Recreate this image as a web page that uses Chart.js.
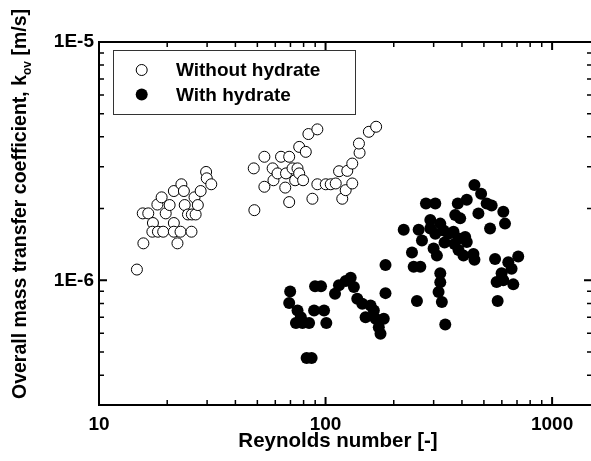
<!DOCTYPE html>
<html>
<head>
<meta charset="utf-8">
<script src="https://cdn.jsdelivr.net/npm/chart.js@4"></script>
<style>
html, body { margin: 0; padding: 0; background: #fff; overflow: hidden; }
#wrap { width: 600px; height: 461px; }
</style>
</head>
<body>
<div id="wrap"><canvas id="chart" width="600" height="461"></canvas></div>
<script>
// Reynolds number / overall mass transfer coefficient k_ov [m/s]
const reWithout = [14.7, 15.7, 15.6, 16.5, 17.3, 17.2, 18.2, 19.2, 18.1, 18.9,
  19.7, 20.5, 21.4, 21.4, 22.2, 22.9, 25.6, 21.4, 23.1, 23.7,
  23.9, 24.7, 25.7, 26.7, 26.4, 27.3, 28.1, 29.7, 29.9, 31.3,
  48.5, 48.2, 53.7, 53.7, 58.4, 58.9, 61.4, 63.6, 69.1, 66.9,
  66.4, 69.1, 71.5, 73.4, 75.2, 76.5, 79.6, 76.5, 81.8, 84.0,
  92.0, 87.5, 92.0, 100.2, 105.4, 110.9, 114.7, 118.5, 122.7, 124.7,
  131.2, 131.2, 141.3, 140.4, 155.3, 167.2];
const kWithout = [1.11e-6, 1.43e-6, 1.91e-6, 1.91e-6, 1.74e-6, 1.60e-6, 1.60e-6, 1.60e-6, 2.08e-6, 2.23e-6,
  1.91e-6, 2.07e-6, 1.74e-6, 1.60e-6, 1.43e-6, 1.60e-6, 1.60e-6, 2.37e-6, 2.53e-6, 2.37e-6,
  2.07e-6, 1.89e-6, 1.89e-6, 1.89e-6, 2.23e-6, 2.07e-6, 2.37e-6, 2.85e-6, 2.68e-6, 2.53e-6,
  1.97e-6, 2.95e-6, 3.30e-6, 2.47e-6, 2.95e-6, 2.63e-6, 2.81e-6, 3.30e-6, 3.30e-6, 2.81e-6,
  2.45e-6, 2.13e-6, 2.95e-6, 2.63e-6, 2.95e-6, 2.81e-6, 2.63e-6, 3.63e-6, 3.46e-6, 4.11e-6,
  4.30e-6, 2.20e-6, 2.53e-6, 2.53e-6, 2.53e-6, 2.55e-6, 2.87e-6, 2.20e-6, 2.39e-6, 2.88e-6,
  2.55e-6, 3.09e-6, 3.43e-6, 3.75e-6, 4.20e-6, 4.41e-6];

const reWith = [69.8, 69.1, 75.2, 74.0, 79.1, 84.6, 89.0, 98.5, 100.8, 89.9,
  95.5, 82.5, 86.8, 110.1, 114.6, 122.7, 129.1, 133.4, 138.0, 145.2,
  158.0, 150.2, 163.4, 166.3, 180.7, 171.8, 174.8, 183.9, 183.9, 221.3,
  257.6, 240.7, 244.9, 262.0, 253.2, 266.4, 277.4, 305.1, 290.0, 290.0,
  305.1, 320.9, 331.8, 349.1, 367.2, 299.9, 310.1, 386.2, 413.3, 420.1,
  386.2, 406.3, 449.6, 454.2, 320.9, 320.9, 315.4, 326.1, 337.6, 383.5,
  420.1, 373.6, 392.9, 454.2, 486.0, 472.9, 514.3, 541.0, 609.0, 532.3,
  619.6, 560.0, 640.7, 708.8, 662.4, 598.5, 569.1, 609.0, 674.0, 575.0,
  77.8, 335.2, 370.9];
const kWith = [8.99e-7, 8.04e-7, 7.48e-7, 6.62e-7, 6.62e-7, 6.62e-7, 7.48e-7, 7.48e-7, 6.62e-7, 9.44e-7,
  9.44e-7, 4.72e-7, 4.72e-7, 8.79e-7, 9.53e-7, 9.93e-7, 1.026e-6, 9.37e-7, 8.38e-7, 7.98e-7,
  7.85e-7, 7.01e-7, 7.48e-7, 6.90e-7, 6.90e-7, 6.36e-7, 5.97e-7, 1.16e-6, 8.84e-7, 1.63e-6,
  1.63e-6, 1.31e-6, 1.14e-6, 1.14e-6, 8.20e-7, 1.47e-6, 2.10e-6, 2.10e-6, 1.79e-6, 1.65e-6,
  1.57e-6, 1.73e-6, 1.62e-6, 1.57e-6, 1.60e-6, 1.36e-6, 1.27e-6, 1.50e-6, 1.52e-6, 1.45e-6,
  1.34e-6, 1.27e-6, 1.29e-6, 1.22e-6, 1.07e-6, 9.81e-7, 8.93e-7, 8.11e-7, 6.53e-7, 2.10e-6,
  2.18e-6, 1.88e-6, 1.82e-6, 2.51e-6, 2.31e-6, 1.91e-6, 2.10e-6, 2.06e-6, 1.94e-6, 1.65e-6,
  1.73e-6, 1.23e-6, 1.19e-6, 1.26e-6, 1.12e-6, 1.07e-6, 9.84e-7, 1.00e-6, 9.62e-7, 8.20e-7,
  7.01e-7, 1.44e-6, 1.42e-6];

const seriesNames = ['Without hydrate', 'With hydrate'];
const xTickLabels = [10, 100, 1000];
const yTickLabels = [1e-6, 1e-5];
const xTitle = 'Reynolds number [-]';
const yTitle = ['Overall mass transfer coefficient, k', 'ov', ' [m/s]'];

const FONT = "'Liberation Sans', Arial, Helvetica, sans-serif";

function pairs(xs, ys) {
  return xs.map((x, i) => ({ x: x, y: ys[i] }));
}
function isDecade(v) {
  const l = Math.log10(v);
  return Math.abs(l - Math.round(l)) < 1e-6;
}

// frame, inward ticks, axis titles and the boxed legend
const decorations = {
  id: 'decorations',
  afterDraw(chart) {
    const ctx = chart.ctx;
    const a = chart.chartArea;
    const xs = chart.scales.x, ys = chart.scales.y;
    ctx.save();
    ctx.strokeStyle = '#000';
    ctx.fillStyle = '#000';

    // x ticks, bottom and top
    for (let d = 10; d <= 1000; d *= 10) {
      for (let m = 1; m <= 9; m++) {
        const v = d * m;
        if (v > xs.max) break;
        const px = xs.getPixelForValue(v);
        const len = m === 1 ? 8 : 5;
        ctx.lineWidth = m === 1 ? 2 : 1.5;
        ctx.beginPath();
        ctx.moveTo(px, a.bottom); ctx.lineTo(px, a.bottom - len);
        ctx.moveTo(px, a.top); ctx.lineTo(px, a.top + len);
        ctx.stroke();
      }
    }
    // y ticks, left and right
    for (const d of [1e-7, 1e-6, 1e-5]) {
      for (let m = 1; m <= 9; m++) {
        const v = d * m;
        if (v < ys.min * 0.999 || v > ys.max * 1.001) continue;
        const py = ys.getPixelForValue(v);
        const len = m === 1 ? 8 : 5;
        ctx.lineWidth = m === 1 ? 2 : 1.5;
        ctx.beginPath();
        ctx.moveTo(a.left, py); ctx.lineTo(a.left + len, py);
        ctx.moveTo(a.right, py); ctx.lineTo(a.right - len, py);
        ctx.stroke();
      }
    }
    // frame
    ctx.lineWidth = 2;
    ctx.strokeRect(a.left, a.top, a.right - a.left, a.bottom - a.top);

    // x title
    ctx.font = 'bold 20.5px ' + FONT;
    ctx.textAlign = 'center';
    ctx.textBaseline = 'middle';
    ctx.fillText(xTitle, 338, 441);

    // y title with subscript
    const mainFont = 'bold 19.5px ' + FONT;
    const subFont = 'bold 12px ' + FONT;
    ctx.font = mainFont;
    const w1 = ctx.measureText(yTitle[0]).width;
    const w3 = ctx.measureText(yTitle[2]).width;
    ctx.font = subFont;
    const w2 = ctx.measureText(yTitle[1]).width;
    const total = w1 + w2 + w3;
    ctx.translate(26, 204);
    ctx.rotate(-Math.PI / 2);
    ctx.textAlign = 'left';
    ctx.textBaseline = 'alphabetic';
    let cx = -total / 2;
    ctx.font = mainFont;
    ctx.fillText(yTitle[0], cx, 0);
    cx += w1;
    ctx.font = subFont;
    ctx.fillText(yTitle[1], cx, 5);
    cx += w2;
    ctx.font = mainFont;
    ctx.fillText(yTitle[2], cx, 0);
    ctx.setTransform(1, 0, 0, 1, 0, 0);

    // legend
    ctx.lineWidth = 1;
    ctx.strokeStyle = '#333';
    ctx.strokeRect(113.5, 50.5, 242, 64);
    const ds = chart.data.datasets;
    const rows = [70, 94.5];
    ctx.font = 'bold 19px ' + FONT;
    ctx.textAlign = 'left';
    ctx.textBaseline = 'middle';
    ds.forEach((d, i) => {
      ctx.beginPath();
      ctx.arc(141.7, rows[i], d.pointRadius, 0, Math.PI * 2);
      ctx.fillStyle = d.backgroundColor;
      ctx.fill();
      if (d.borderWidth) {
        ctx.lineWidth = d.borderWidth;
        ctx.strokeStyle = d.borderColor;
        ctx.stroke();
      }
      ctx.fillStyle = '#000';
      ctx.fillText(d.label, 176, rows[i] + 1);
    });
    ctx.restore();
  }
};

new Chart(document.getElementById('chart'), {
  type: 'scatter',
  data: {
    datasets: [
      {
        label: seriesNames[0],
        data: pairs(reWithout, kWithout),
        pointRadius: 5.5,
        pointHoverRadius: 5.5,
        backgroundColor: '#fff',
        borderColor: '#000',
        borderWidth: 1
      },
      {
        label: seriesNames[1],
        data: pairs(reWith, kWith),
        pointRadius: 6,
        pointHoverRadius: 6,
        backgroundColor: '#000',
        borderColor: '#000',
        borderWidth: 0
      }
    ]
  },
  options: {
    responsive: false,
    animation: false,
    layout: { padding: { left: 0, top: 42, right: 7, bottom: 0 } },
    plugins: { legend: { display: false }, tooltip: { enabled: false } },
    scales: {
      x: {
        type: 'logarithmic',
        min: 10,
        max: 1500,
        grid: { display: false, drawTicks: false },
        border: { display: false },
        ticks: {
          autoSkip: false,
          maxRotation: 0,
          padding: 8,
          color: '#000',
          font: { family: FONT, size: 19, weight: 'bold' },
          callback: (v) => (isDecade(v) && xTickLabels.includes(Math.round(v))) ? String(Math.round(v)) : ''
        },
        afterFit(s) { s.height = 56; }
      },
      y: {
        type: 'logarithmic',
        min: 3e-7,
        max: 1e-5,
        grid: { display: false, drawTicks: false },
        border: { display: false },
        ticks: {
          autoSkip: false,
          padding: 5,
          color: '#000',
          font: { family: FONT, size: 19, weight: 'bold' },
          callback: (v) => {
            if (!isDecade(v)) return '';
            const e = Math.round(Math.log10(v));
            return yTickLabels.some(t => Math.round(Math.log10(t)) === e) ? '1E' + e : '';
          }
        },
        afterFit(s) { s.width = 99; }
      }
    }
  },
  plugins: [decorations]
});
</script>
</body>
</html>
